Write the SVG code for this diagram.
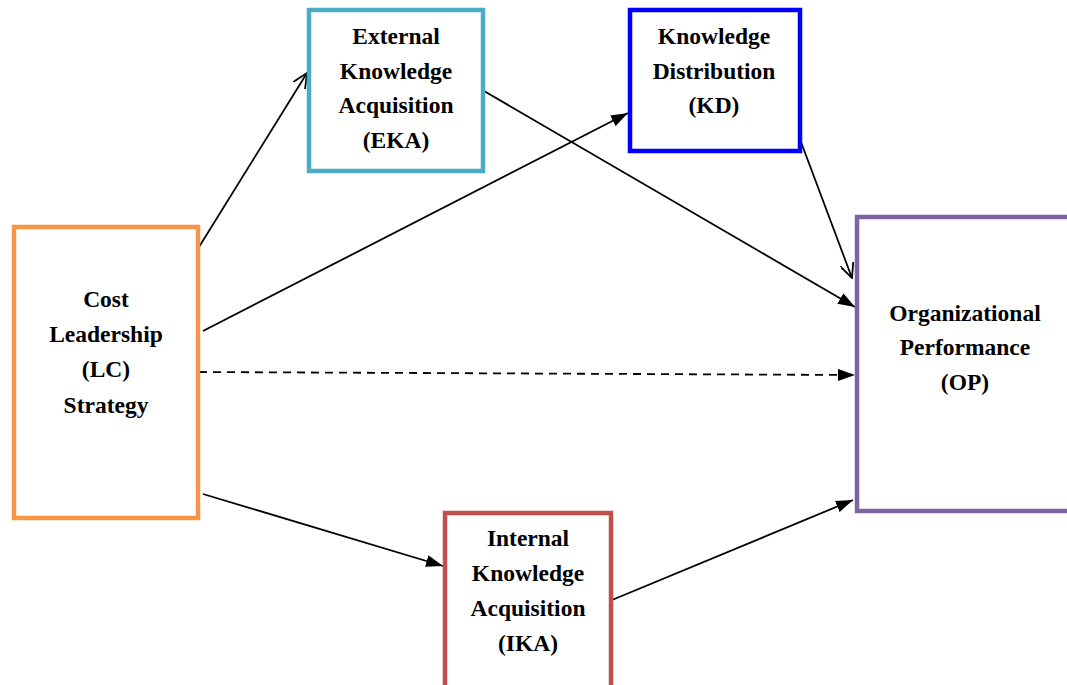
<svg xmlns="http://www.w3.org/2000/svg" width="1067" height="685" viewBox="0 0 1067 685">
<style>
.box{fill:#fff;stroke-width:4.5}
.t{font-family:"Liberation Serif","Times New Roman",serif;font-weight:bold;font-size:23.5px;fill:#000;text-anchor:middle}
.c{stroke:#000;stroke-width:1.8;fill:none}
</style>
<defs>
<marker id="fa" viewBox="0 0 17 12" refX="17" refY="6" markerWidth="17" markerHeight="12" markerUnits="userSpaceOnUse" orient="auto">
<path d="M0,0 L17,6 L0,12 Z" fill="#000"/>
</marker>
<marker id="oa" viewBox="0 0 16 14" refX="15" refY="7" markerWidth="16" markerHeight="14" markerUnits="userSpaceOnUse" orient="auto">
<path d="M0,0 L15,7 L0,14" fill="none" stroke="#000" stroke-width="1.8"/>
</marker>
</defs>
<rect width="1067" height="685" fill="#fff"/>
<g id="connectors">
<line class="c" x1="199" y1="247" x2="307" y2="73" marker-end="url(#oa)"/>
<line class="c" x1="203" y1="331" x2="628" y2="113" marker-end="url(#fa)"/>
<line class="c" x1="484" y1="91" x2="855" y2="307" marker-end="url(#fa)"/>
<line class="c" x1="801" y1="142" x2="852" y2="278" marker-end="url(#oa)"/>
<line class="c" x1="199" y1="372" x2="855" y2="375" stroke-dasharray="8,6" marker-end="url(#fa)"/>
<line class="c" x1="203" y1="494" x2="443" y2="566" marker-end="url(#fa)"/>
<line class="c" x1="612" y1="600" x2="853" y2="500" marker-end="url(#fa)"/>
</g>
<g id="LC">
<rect class="box" x="14" y="227" width="184" height="291" stroke="#F79646"/>
<text class="t" x="106" y="307">Cost</text>
<text class="t" x="106" y="342">Leadership</text>
<text class="t" x="106" y="377">(LC)</text>
<text class="t" x="106" y="413">Strategy</text>
</g>
<g id="EKA">
<rect class="box" x="309" y="10" width="174" height="161" stroke="#4BACC6"/>
<text class="t" x="396" y="44">External</text>
<text class="t" x="396" y="79">Knowledge</text>
<text class="t" x="396" y="113">Acquisition</text>
<text class="t" x="396" y="148">(EKA)</text>
</g>
<g id="KD">
<rect class="box" x="630" y="10" width="170" height="141" stroke="#0000FF"/>
<text class="t" x="714" y="44">Knowledge</text>
<text class="t" x="714" y="79">Distribution</text>
<text class="t" x="714" y="113">(KD)</text>
</g>
<g id="OP">
<rect class="box" x="857" y="217" width="230" height="294" stroke="#8064A2"/>
<text class="t" x="965" y="321">Organizational</text>
<text class="t" x="965" y="355">Performance</text>
<text class="t" x="965" y="390">(OP)</text>
</g>
<g id="IKA">
<rect class="box" x="445" y="513" width="166" height="190" stroke="#C0504D"/>
<text class="t" x="528" y="546">Internal</text>
<text class="t" x="528" y="581">Knowledge</text>
<text class="t" x="528" y="616">Acquisition</text>
<text class="t" x="528" y="651">(IKA)</text>
</g>
</svg>
